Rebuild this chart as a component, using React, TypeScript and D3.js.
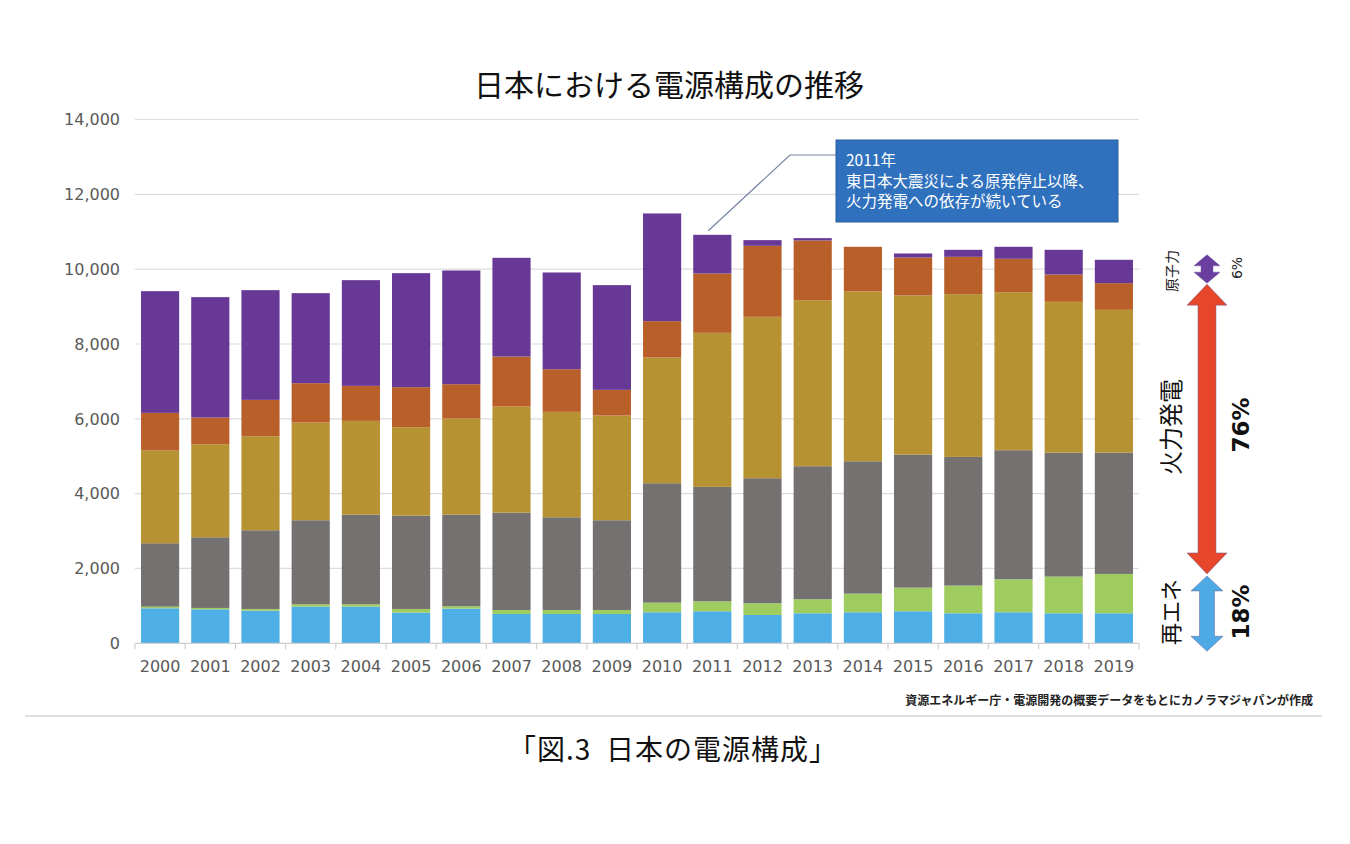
import { useEffect, useRef } from 'react';
import * as d3 from 'd3';

const years = ['2000', '2001', '2002', '2003', '2004', '2005', '2006', '2007', '2008', '2009',
  '2010', '2011', '2012', '2013', '2014', '2015', '2016', '2017', '2018', '2019'];

// segment values (bottom to top)
const hydro = [936, 909, 873, 980, 980, 820, 927, 784, 784, 784, 829, 856, 758, 802, 829, 856, 802, 829, 802, 802];
const newEnergy = [44, 36, 45, 63, 63, 98, 62, 107, 107, 107, 258, 267, 312, 375, 499, 632, 740, 882, 981, 1052];
const coal = [1694, 1889, 2103, 2246, 2397, 2496, 2451, 2603, 2478, 2398, 3191, 3057, 3342, 3556, 3538, 3557, 3440, 3450, 3315, 3244];
const lng = [2478, 2487, 2514, 2611, 2505, 2362, 2567, 2834, 2817, 2799, 3360, 4118, 4314, 4438, 4537, 4251, 4350, 4224, 4029, 3815];
const oil = [1007, 713, 971, 1052, 936, 1069, 918, 1337, 1140, 686, 972, 1586, 1898, 1596, 1195, 1016, 998, 892, 731, 713];
const nuclear = [3253, 3218, 2933, 2407, 2825, 3048, 3040, 2638, 2585, 2799, 2879, 1034, 152, 62, 0, 107, 187, 321, 659, 624];

const seriesKeys = ['hydro', 'newEnergy', 'coal', 'lng', 'oil', 'nuclear'];
const seriesColors = ['#4eaee6', '#9ecc5e', '#767171', '#b79232', '#b9602a', '#673896'];
const yTicks = [0, 2000, 4000, 6000, 8000, 10000, 12000, 14000];

const title = '日本における電源構成の推移';
const noteLines = ['2011年', '東日本大震災による原発停止以降、', '火力発電への依存が続いている'];
const sourceText = '資源エネルギー庁・電源開発の概要データをもとにカノラマジャパンが作成';
const caption = '「図.3  日本の電源構成」';

const JP = '"Noto Sans CJK JP", "Noto Sans", sans-serif';
const NUM = '"DejaVu Sans", Verdana, sans-serif';

const App = () => {
  const svgRef = useRef<SVGSVGElement>(null);

  useEffect(() => {
    if (!svgRef.current) return;
    const svg = d3.select(svgRef.current);
    svg.selectAll('*').remove();

    const left = 135, right = 1139, top = 119.5, bottom = 643.3;

    const rows = years.map((yr, i) => ({
      year: yr, hydro: hydro[i], newEnergy: newEnergy[i], coal: coal[i], lng: lng[i], oil: oil[i], nuclear: nuclear[i],
    }));
    const stacked = d3.stack<any>().keys(seriesKeys)(rows);

    const x = d3.scaleBand().domain(years).range([left, right]).paddingInner(0.24).paddingOuter(0.12);
    const y = d3.scaleLinear().domain([0, 14000]).range([bottom, top]);

    // title
    svg.append('text').attr('x', 669).attr('y', 96).attr('text-anchor', 'middle')
      .style('font-family', JP).style('font-size', '30px').attr('fill', '#111').text(title);

    // grid + y labels
    const grid = svg.append('g');
    yTicks.forEach(t => {
      if (t > 0) {
        grid.append('line').attr('x1', left).attr('x2', right).attr('y1', y(t)).attr('y2', y(t))
          .attr('stroke', '#dcdcdc').attr('stroke-width', 1.2);
      }
      grid.append('text').attr('x', 120).attr('y', y(t)).attr('dy', '0.36em').attr('text-anchor', 'end')
        .style('font-family', NUM).style('font-size', '16px').attr('fill', '#595959')
        .text(d3.format(',')(t));
    });

    // bars
    svg.append('g').selectAll('g').data(stacked).join('g')
      .attr('fill', (_, i) => seriesColors[i])
      .selectAll('rect').data(d => d).join('rect')
      .attr('x', d => x(d.data.year)!)
      .attr('width', x.bandwidth())
      .attr('y', d => y(d[1]))
      .attr('height', d => y(d[0]) - y(d[1]));

    // x axis
    const ax = svg.append('g');
    ax.append('line').attr('x1', left).attr('x2', right).attr('y1', bottom).attr('y2', bottom)
      .attr('stroke', '#d0d0d0').attr('stroke-width', 1.2);
    d3.range(years.length + 1).forEach(i => {
      const xx = left + (right - left) / years.length * i;
      ax.append('line').attr('x1', xx).attr('x2', xx).attr('y1', bottom).attr('y2', bottom + 6)
        .attr('stroke', '#d0d0d0').attr('stroke-width', 1.2);
    });
    ax.selectAll('text.yr').data(years).join('text').attr('class', 'yr')
      .attr('x', d => x(d)! + x.bandwidth() / 2).attr('y', 672).attr('text-anchor', 'middle')
      .style('font-family', NUM).style('font-size', '16px').attr('fill', '#595959').text(d => d);

    // callout
    const i2011 = years.indexOf('2011');
    const bx = x('2011')! + x.bandwidth() / 2;
    const by = y(stacked[stacked.length - 1][i2011][1]);
    svg.append('path').attr('d', `M${bx - 4},${by - 4} L790,155 L836,155`)
      .attr('fill', 'none').attr('stroke', '#7484a0').attr('stroke-width', 1.2);
    svg.append('rect').attr('x', 836).attr('y', 140).attr('width', 282).attr('height', 82)
      .attr('fill', '#2f71bd').attr('stroke', '#2a5f9e').attr('stroke-width', 1);
    noteLines.forEach((l, i) => {
      svg.append('text').attr('x', 846).attr('y', 166 + i * 20.5)
        .style('font-family', JP).style('font-size', '15.5px').attr('fill', '#fff').text(l);
    });

    // right arrows
    const last = years.length - 1;
    const tops = stacked.map(s => s[last][1]);
    const ax0 = 1207;
    const arrow = (y1: number, y2: number, shaft: number, head: number, headLen: number, fill: string) => {
      const s = shaft / 2, h = head / 2;
      const pts = [
        [ax0, y1], [ax0 + h, y1 + headLen], [ax0 + s, y1 + headLen], [ax0 + s, y2 - headLen],
        [ax0 + h, y2 - headLen], [ax0, y2], [ax0 - h, y2 - headLen], [ax0 - s, y2 - headLen],
        [ax0 - s, y1 + headLen], [ax0 - h, y1 + headLen],
      ];
      svg.append('path').attr('d', 'M' + pts.map(p => p.join(',')).join('L') + 'Z')
        .attr('fill', fill).attr('stroke', '#6a5a9a').attr('stroke-width', 0.8).attr('stroke-opacity', 0.6);
    };
    arrow(y(tops[5]) - 5, y(tops[4]), 12, 26, 11, '#6b3fa0');
    arrow(y(tops[4]) + 1, y(tops[1]), 18, 40, 21, '#e8462a');
    arrow(y(tops[1]) + 2, y(0) + 8, 15, 32, 15, '#4eaae4');

    const vLabel = (cx: number, cy: number, text: string, size: number, weight: number, color: string, family: string) => {
      svg.append('text').attr('transform', `translate(${cx},${cy}) rotate(-90)`)
        .attr('text-anchor', 'middle').attr('dy', '0.36em')
        .style('font-family', family).style('font-size', `${size}px`).style('font-weight', weight)
        .attr('fill', color).text(text);
    };
    vLabel(1172, 271, '原子力', 14, 400, '#222', JP);
    vLabel(1237, 268, '6%', 14, 400, '#222', NUM);
    vLabel(1171, 427, '火力発電', 24, 400, '#111', JP);
    vLabel(1241, 425, '76%', 23, 700, '#111', NUM);
    vLabel(1171, 612, '再エネ', 22, 400, '#111', JP);
    vLabel(1241, 612, '18%', 23, 700, '#111', NUM);

    // source + rule + caption
    svg.append('text').attr('x', 1313).attr('y', 705).attr('text-anchor', 'end')
      .style('font-family', JP).style('font-size', '12px').style('font-weight', 600)
      .attr('fill', '#222').text(sourceText);
    svg.append('line').attr('x1', 25).attr('x2', 1322).attr('y1', 716).attr('y2', 716)
      .attr('stroke', '#d6d6d6').attr('stroke-width', 1.5);
    svg.append('text').attr('x', 673).attr('y', 760).attr('text-anchor', 'middle')
      .style('font-family', JP).style('font-size', '28px').style('letter-spacing', '1px')
      .style('white-space', 'pre').attr('fill', '#111').text(caption);
  }, []);

  return (
    <>
      <style>{`body{margin:0;overflow:hidden;}`}</style>
      <svg ref={svgRef} width={1350} height={844} style={{ display: 'block', background: '#fff' }} />
    </>
  );
};

export default App;
